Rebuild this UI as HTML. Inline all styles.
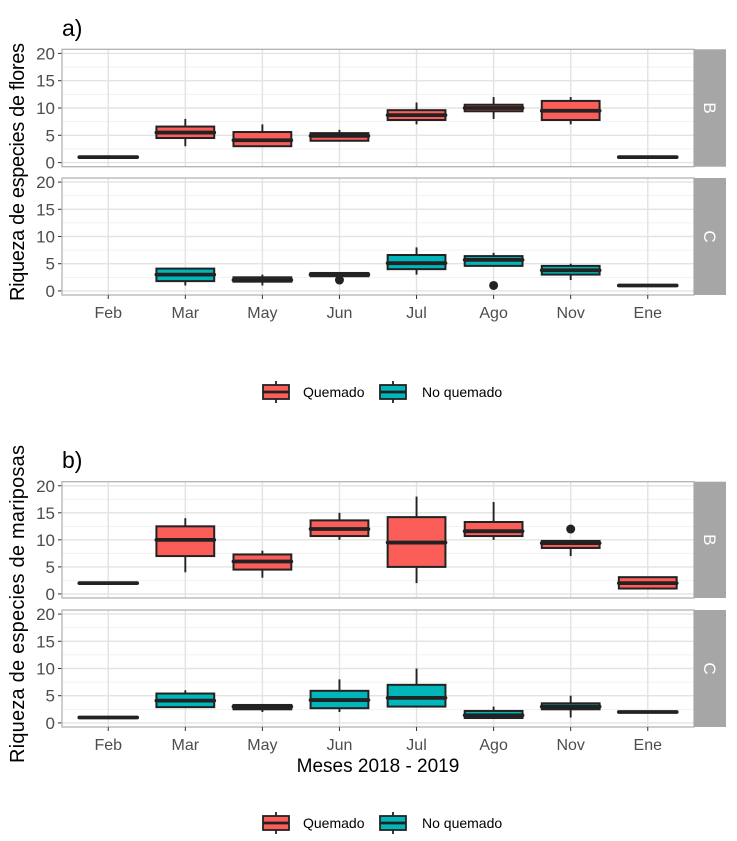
<!DOCTYPE html>
<html><head><meta charset="utf-8"><style>
html,body{margin:0;padding:0;background:#fff}
svg{display:block;font-family:"Liberation Sans",sans-serif}
</style></head><body>
<svg id="fig" width="737" height="841" viewBox="0 0 737 841" xmlns="http://www.w3.org/2000/svg">
<text x="62" y="36" font-size="23" fill="#000">a)</text>
<text x="62" y="468" font-size="23" fill="#000">b)</text>
<text transform="translate(24,172) rotate(-90)" text-anchor="middle" font-size="20" textLength="258" fill="#000">Riqueza de especies de flores</text>
<text transform="translate(24,604) rotate(-90)" text-anchor="middle" font-size="20" textLength="318" fill="#000">Riqueza de especies de mariposas</text>
<text x="378" y="772" text-anchor="middle" font-size="19" fill="#000">Meses 2018 - 2019</text>
<g id="plots"></g>
</svg>
<script>
const categories = ["Feb","Mar","May","Jun","Jul","Ago","Nov","Ene"];
const yTicks = [0,5,10,15,20];
// Flores, Quemado (B)
const flB_lo  = [1,3,3,4,7,8,7,1];
const flB_q1  = [1,4.5,3,4,7.8,9.4,7.8,1];
const flB_med = [1,5.5,4.1,4.9,8.7,10,9.5,1];
const flB_q3  = [1,6.6,5.6,5.4,9.6,10.6,11.3,1];
const flB_hi  = [1,8,7,6,11,12,12,1];
const flB_out = [[],[],[],[],[],[],[],[]];
// Flores, No quemado (C)
const flC_lo  = [null,1,1,3,3,4.6,2,1];
const flC_q1  = [null,1.8,1.7,2.7,4,4.6,3,1];
const flC_med = [null,3,2,3,5.1,5.7,3.8,1];
const flC_q3  = [null,4.1,2.5,3.3,6.6,6.4,4.6,1];
const flC_hi  = [null,4.1,3,3.3,8,7,5,1];
const flC_out = [[],[],[],[2],[],[1],[],[]];
// Mariposas, Quemado (B)
const maB_lo  = [2,4,3,10,2,10,7,1];
const maB_q1  = [2,7,4.5,10.7,5,10.7,8.5,1];
const maB_med = [2,10,6,12,9.5,11.6,9.4,2];
const maB_q3  = [2,12.5,7.3,13.6,14.2,13.3,9.8,3.1];
const maB_hi  = [2,14,8,15,18,17,9.8,3.1];
const maB_out = [[],[],[],[],[],[],[12],[]];
// Mariposas, No quemado (C)
const maC_lo  = [1,3,2,2,3,1,1,2];
const maC_q1  = [1,2.9,2.5,2.7,3,0.9,2.5,2];
const maC_med = [1,4.1,3,4.2,4.6,1.4,3,2];
const maC_q3  = [1,5.4,3.3,5.9,7,2.2,3.6,2];
const maC_hi  = [1,6,3.3,8,10,3,5,2];
const maC_out = [[],[],[],[],[],[],[],[]];

const NS="http://www.w3.org/2000/svg";
const root=document.getElementById('plots');
function mk(tag,attrs,parent){const e=document.createElementNS(NS,tag);for(const k in attrs)e.setAttribute(k,attrs[k]);(parent||root).appendChild(e);return e;}
const X0=62,X1=694;
function xs(i){return X0+(i+1-0.4)/8.2*(X1-X0);}
const RED="#FB5D58",TEAL="#00B6BA";

function panel(top,bottom,strip,lo,q1,med,q3,hi,out,fill,name){
  const ys=v=>bottom-(v+0.75)/21.5*(bottom-top);
  const g=mk('g',{});
  
  
  const bg=mk('rect',{x:X0,y:top,width:X1-X0,height:bottom-top,fill:"#fff"},g);
  
  
  for(let v=2.5;v<=20;v+=5){const l=mk('line',{x1:X0,x2:X1,y1:ys(v),y2:ys(v),stroke:"#F1F1F1","stroke-width":1},g);
    
    }
  yTicks.forEach(v=>{const l=mk('line',{x1:X0,x2:X1,y1:ys(v),y2:ys(v),stroke:"#E3E3E3","stroke-width":1.4},g);
    
    
    const tk=mk('line',{x1:X0-4,x2:X0,y1:ys(v),y2:ys(v),stroke:"#333","stroke-width":1},g);
    
    
    const t=mk('text',{x:X0-7,y:ys(v)+6,"text-anchor":"end","font-size":17,fill:"#4D4D4D"},g);t.textContent=v;
    
    });
  categories.forEach((c,i)=>{const l=mk('line',{x1:xs(i),x2:xs(i),y1:top,y2:bottom,stroke:"#E3E3E3","stroke-width":1.4},g);
    
    });
  const hw=0.375*(X1-X0)/8.2;
  categories.forEach((c,i)=>{
    if(med[i]===null)return;
    const bx=mk('g',{},g);
    
    
    const cx=xs(i);
    mk('line',{x1:cx,x2:cx,y1:ys(hi[i]),y2:ys(q3[i]),stroke:"#222","stroke-width":1.9},bx);
    mk('line',{x1:cx,x2:cx,y1:ys(q1[i]),y2:ys(lo[i]),stroke:"#222","stroke-width":1.9},bx);
    const h=Math.max(ys(q1[i])-ys(q3[i]),0.01);
    mk('rect',{x:cx-hw,y:ys(q3[i]),width:2*hw,height:h,fill:fill,stroke:"#222","stroke-width":2},bx);
    mk('line',{x1:cx-hw,x2:cx+hw,y1:ys(med[i]),y2:ys(med[i]),stroke:"#222","stroke-width":3.8,"stroke-linecap":"round"},bx);
    out[i].forEach(o=>{const p=mk('circle',{cx:cx,cy:ys(o),r:4.5,fill:"#222"},bx);
      
      });
  });
  const br=mk('rect',{x:X0,y:top,width:X1-X0,height:bottom-top,fill:"none",stroke:"#B3B3B3","stroke-width":1.3},g);
  
  
  const st=mk('rect',{x:X1,y:top,width:32,height:bottom-top,fill:"#A6A6A6"},g);
  
  
  const stt=mk('text',{transform:`translate(${X1+10},${(top+bottom)/2}) rotate(90)`,"text-anchor":"middle","font-size":17,fill:"#fff"},g);
  stt.textContent=strip;
  
  
}
function xlabels(bottom){
  categories.forEach((c,i)=>{
    const tk=mk('line',{x1:xs(i),x2:xs(i),y1:bottom,y2:bottom+4,stroke:"#333","stroke-width":1});
    
    
    const t=mk('text',{x:xs(i),y:bottom+23,"text-anchor":"middle","font-size":16,fill:"#4D4D4D"});t.textContent=c;
    
    
  });
}
function legend(cy){
  const g=mk('g',{});
  
  
  [[263,RED,"Quemado",303],[380,TEAL,"No quemado",422]].forEach(([x,f,lab,tx])=>{
    const e=mk('g',{},g);
    
    
    mk('line',{x1:x+13,x2:x+13,y1:cy-11,y2:cy+11,stroke:"#222","stroke-width":1.8},e);
    mk('rect',{x:x,y:cy-7,width:26,height:14,fill:f,stroke:"#222","stroke-width":1.8},e);
    mk('line',{x1:x,x2:x+26,y1:cy,y2:cy,stroke:"#222","stroke-width":2.8},e);
    const t=mk('text',{x:tx,y:cy+5,"font-size":14,fill:"#000"},e);t.textContent=lab;
  });
}
panel(49.3,166.7,"B",flB_lo,flB_q1,flB_med,flB_q3,flB_hi,flB_out,RED,"panel-flores-b");
panel(178,295,"C",flC_lo,flC_q1,flC_med,flC_q3,flC_hi,flC_out,TEAL,"panel-flores-c");
xlabels(295);
legend(392);
panel(481.7,598,"B",maB_lo,maB_q1,maB_med,maB_q3,maB_hi,maB_out,RED,"panel-mariposas-b");
panel(610,727,"C",maC_lo,maC_q1,maC_med,maC_q3,maC_hi,maC_out,TEAL,"panel-mariposas-c");
xlabels(727);
legend(823);
</script>
</body></html>
